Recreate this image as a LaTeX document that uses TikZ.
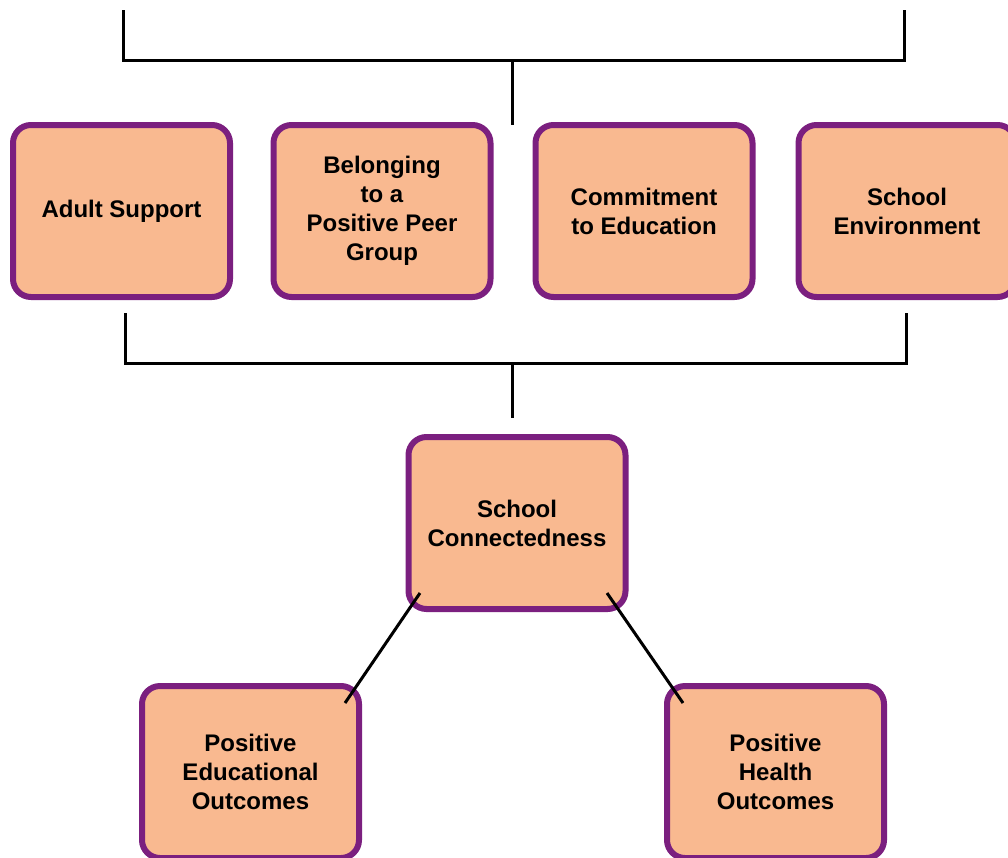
\documentclass[tikz,border=0pt]{standalone}
\usepackage{fontspec}
\setmainfont{Liberation Sans}
\definecolor{boxfill}{HTML}{F9B990}
\definecolor{boxline}{HTML}{7B1F7F}
\tikzset{
  factor/.style={draw=boxline, fill=boxfill, line width=6pt, rounded corners=18pt,
    minimum width=217pt, minimum height=172pt, inner sep=0pt, align=center,
    font=\fontsize{24pt}{29pt}\selectfont\bfseries},
  link/.style={draw=black, line width=3pt}
}
\begin{document}
\begin{tikzpicture}[x=1pt,y=-1pt]
\useasboundingbox (0,0) rectangle (1008,857);
\clip (0,0) rectangle (1008,857);
% top row
\node[factor] (adult) at (121.5,211) {Adult Support};
\node[factor] (belong) at (382,211) {Belonging\\to a\\Positive Peer\\Group};
\node[factor] (commit) at (644,211) {Commitment\\to Education};
\node[factor] (env) at (907,211) {School\\Environment};
% middle
\node[factor] (conn) at (517,523) {School\\Connectedness};
% bottom
\node[factor] (edu) at (250.5,772) {Positive\\Educational\\Outcomes};
\node[factor] (health) at (775.5,772) {Positive\\Health\\Outcomes};
% top bracket
\coordinate (tl) at (123,10);
\coordinate (tr) at (904,10);
\coordinate (tm) at (512,60);
\coordinate (ts) at (512,125);
\draw[link] (tl) |- (tm) -| (tr);
\draw[link] (tm) -- (ts);
% middle bracket
\coordinate (ml) at (125,313);
\coordinate (mr) at (906,313);
\coordinate (mm) at (512,363);
\coordinate (ms) at (512,418);
\draw[link] (ml) |- (mm) -| (mr);
\draw[link] (mm) -- (ms);
% diagonals
\coordinate (c1) at (420,593);
\coordinate (e1) at (345,703);
\coordinate (c2) at (607,593);
\coordinate (h1) at (683,703);
\draw[link] (c1) -- (e1);
\draw[link] (c2) -- (h1);
\end{tikzpicture}
\end{document}
